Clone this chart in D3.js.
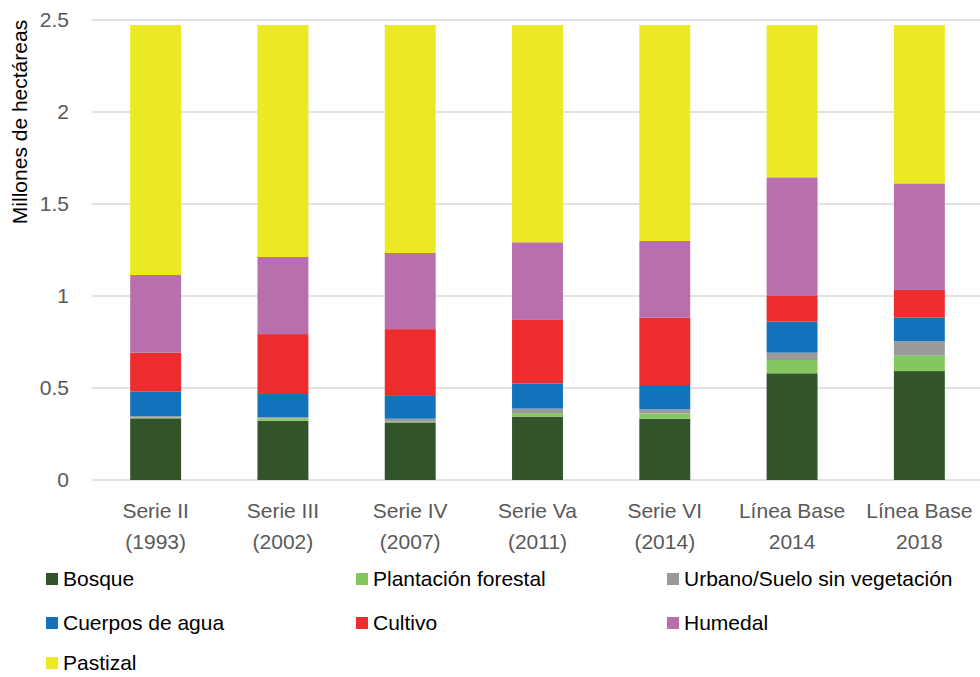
<!DOCTYPE html>
<html><head><meta charset="utf-8">
<script src="https://cdn.jsdelivr.net/npm/d3@7"></script>
<style>body{margin:0;background:#fff}svg{display:block}text{font-family:"Liberation Sans",Arial,sans-serif}</style>
</head><body>
<svg id="c" width="980" height="677"></svg>
<script>
const categories = [["Serie II","(1993)"],["Serie III","(2002)"],["Serie IV","(2007)"],["Serie Va","(2011)"],["Serie VI","(2014)"],["Línea Base","2014"],["Línea Base","2018"]];
const seriesNames = ["Bosque","Plantación forestal","Urbano/Suelo sin vegetación","Cuerpos de agua","Cultivo","Humedal","Pastizal"];
const bosque      = [0.335,0.322,0.313,0.344,0.333,0.580,0.592];
const plantacion  = [0.004,0.013,0.004,0.019,0.029,0.072,0.084];
const urbano      = [0.008,0.006,0.016,0.025,0.022,0.040,0.079];
const agua        = [0.133,0.126,0.124,0.137,0.132,0.169,0.127];
const cultivo     = [0.212,0.326,0.363,0.345,0.366,0.139,0.151];
const humedal     = [0.422,0.419,0.414,0.422,0.417,0.645,0.579];
const pastizal    = [1.359,1.261,1.239,1.181,1.174,0.828,0.861];
const yTicks = [0,0.5,1,1.5,2,2.5];
const colors = ["#31542a","#85c65f","#9a9a9a","#1272bc","#ec2c2d","#b86fae","#ebe923"];

const seriesVals = [bosque,plantacion,urbano,agua,cultivo,humedal,pastizal];
const rows = categories.map((c,i)=>{const o={key:i};seriesNames.forEach((s,j)=>o[s]=seriesVals[j][i]);return o;});
const stack = d3.stack().keys(seriesNames)(rows);

const svg = d3.select("#c");
const x = d3.scaleBand().domain(d3.range(categories.length)).range([92,983]).paddingInner(0.6).paddingOuter(0.3);
const y = d3.scaleLinear().domain([0,2.5]).range([480,20]);

// gridlines
svg.append("g").selectAll("line").data(yTicks).join("line")
  .attr("x1",92).attr("x2",980).attr("y1",d=>y(d)).attr("y2",d=>y(d))
  .attr("stroke","#d9d9d9").attr("stroke-width",1.3);

// y labels
svg.append("g").selectAll("text").data(yTicks).join("text")
  .attr("x",69).attr("y",d=>y(d)).attr("dy","0.35em").attr("text-anchor","end")
  .attr("fill","#595959").attr("font-size",21).text(d=>d);

// bars
svg.append("g").selectAll("g").data(stack).join("g").attr("fill",(d,i)=>colors[i])
  .selectAll("rect").data(d=>d).join("rect")
  .attr("x",(d,i)=>x(i)).attr("width",x.bandwidth())
  .attr("y",d=>y(d[1])).attr("height",d=>y(d[0])-y(d[1]));

// x labels
const xl = svg.append("g").selectAll("text").data(categories).join("text")
  .attr("text-anchor","middle").attr("fill","#595959").attr("font-size",21);
xl.append("tspan").attr("x",(d,i)=>x(i)+x.bandwidth()/2).attr("y",518).text(d=>d[0]);
xl.append("tspan").attr("x",(d,i)=>x(i)+x.bandwidth()/2).attr("y",549).text(d=>d[1]);

// y title
svg.append("text").attr("transform","translate(27,122) rotate(-90)").attr("text-anchor","middle")
  .attr("font-size",21).attr("fill","#000").text("Millones de hectáreas");

// legend
const colX = [46,356,667], rowY=[579,623,663];
const lg = svg.append("g").selectAll("g").data(seriesNames).join("g")
  .attr("transform",(d,i)=>`translate(${colX[i%3]},${rowY[Math.floor(i/3)]})`);
lg.append("rect").attr("x",0).attr("y",-6).attr("width",12).attr("height",12).attr("fill",(d,i)=>colors[i]);
lg.append("text").attr("x",17).attr("dy","0.35em").attr("font-size",21).attr("fill","#000").text(d=>d);
</script>
</body></html>
